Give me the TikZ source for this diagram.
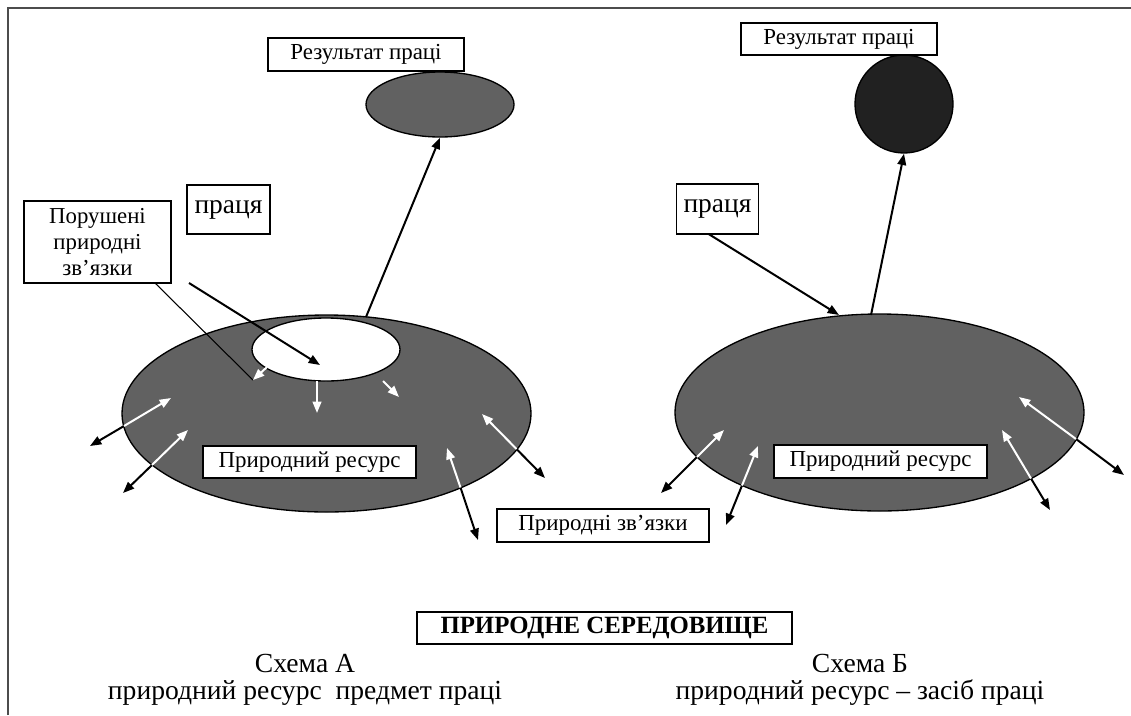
\documentclass[tikz,border=0pt]{standalone}
\usepackage{fontspec}
\setmainfont{Liberation Serif}
\usetikzlibrary{shapes.geometric,arrows.meta}
\begin{document}
\begin{tikzpicture}[x=0.75pt,y=-0.75pt,
  box/.style={draw=black,fill=white,line width=0.8pt,inner sep=0pt,align=center},
  ell/.style={ellipse,draw=black,line width=1pt,inner sep=0pt},
  arr/.style={draw=black,line width=1.5pt,-{Triangle[length=8.5pt,width=6.5pt]}},
  warr/.style={draw=white,line width=1.5pt,-{Triangle[length=8.5pt,width=6.5pt]}},
  thinline/.style={draw=black,line width=0.8pt},
  lbl/.style={font=\fontsize{17.2pt}{20pt}\selectfont},
  worklbl/.style={font=\fontsize{20.6pt}{24pt}\selectfont},
  captxt/.style={font=\fontsize{20.7pt}{20.25pt}\selectfont,inner sep=0pt,align=center}
]
\useasboundingbox (0,0) rectangle (1131,715);
% frame
\draw[black!70,line width=1.5pt] (7.5,715) -- (7.5,7.5) -- (1131,7.5);

% ---------- Scheme A ----------
\node[ell,fill=black!62,minimum width=306.75pt,minimum height=147.75pt] (bigA) at (326.5,413.5) {};
\node[ell,fill=white,minimum width=111pt,minimum height=47.25pt] (whiteA) at (326,349.5) {};
\node[ell,fill=black!62,minimum width=111pt,minimum height=48.75pt] (resellA) at (440,104.5) {};
\node[box,lbl,minimum width=147pt,minimum height=24.75pt] (resA) at (366,54.5) {Результат праці};
\node[box,worklbl,minimum width=62.25pt,minimum height=36.75pt] (workA) at (228.5,209.5) {праця};
\node[box,font=\fontsize{17.1pt}{19.5pt}\selectfont,minimum width=110.25pt,minimum height=61.5pt] (broken) at (97.5,242) {Порушені\\природні\\зв’язки};
\node[box,lbl,minimum width=159.75pt,minimum height=24pt] (natA) at (309.5,462) {Природний ресурс};

\coordinate (laborA) at (189,283);
\coordinate (laborAend) at (320,365);
\coordinate (brokenfoot) at (155,283);
\coordinate (brokentip) at (253,380);
\coordinate (resAstart) at (366,317);

\draw[thinline] (brokenfoot) -- (brokentip);
\draw[arr] (laborA) -- (laborAend);
\draw[arr] (resAstart) -- (resellA.south);

% white arrows from the disturbed zone
\coordinate (wa1s) at (267,367); \coordinate (wa1e) at (253,380);
\coordinate (wa2s) at (317,381); \coordinate (wa2e) at (317,413);
\coordinate (wa3s) at (383,381); \coordinate (wa3e) at (399,397);
\draw[warr] (wa1s) -- (wa1e);
\draw[warr] (wa2s) -- (wa2e);
\draw[warr] (wa3s) -- (wa3e);

% double arrows A: outer / split / inner
\coordinate (a1o) at (90,446);   \coordinate (a1s) at (124,426);   \coordinate (a1i) at (171,398);
\coordinate (a2o) at (123,493);  \coordinate (a2s) at (152,465);   \coordinate (a2i) at (188,430);
\coordinate (a3o) at (545,478);  \coordinate (a3s) at (516.5,449); \coordinate (a3i) at (482,414);
\coordinate (a4o) at (478,540);  \coordinate (a4s) at (460.5,487.5); \coordinate (a4i) at (447,448);
\foreach \n in {1,2,3,4}{
  \draw[arr] (a\n s) -- (a\n o);
  \draw[warr] (a\n s) -- (a\n i);
}

% ---------- Scheme B ----------
\node[ell,fill=black!62,minimum width=306.75pt,minimum height=147.75pt] (bigB) at (879.5,412.5) {};
\node[circle,draw=black,line width=1pt,fill=black!87,inner sep=0pt,minimum size=73.5pt] (circB) at (904,104) {};
\node[box,lbl,minimum width=147pt,minimum height=24pt] (resB) at (839,39) {Результат праці};
\node[box,worklbl,minimum width=61.5pt,minimum height=37.5pt] (workB) at (717.5,209) {праця};
\node[box,lbl,minimum width=159.75pt,minimum height=24.75pt] (natB) at (880.5,461.5) {Природний ресурс};

\coordinate (laborBs) at (708.6,234);
\coordinate (laborBe) at (839,315);
\coordinate (resBstart) at (871,315);
\draw[arr] (laborBs) -- (laborBe);
\draw[arr] (resBstart) -- (circB.south);

\coordinate (b1o) at (661,493);   \coordinate (b1s) at (697,457);     \coordinate (b1i) at (724,430);
\coordinate (b2o) at (726,525);   \coordinate (b2s) at (742,485.5);   \coordinate (b2i) at (758,446);
\coordinate (b3o) at (1124,475);  \coordinate (b3s) at (1076,439);    \coordinate (b3i) at (1019,397);
\coordinate (b4o) at (1050,510);  \coordinate (b4s) at (1031,478.5);  \coordinate (b4i) at (1002,430);
\foreach \n in {1,2,3,4}{
  \draw[arr] (b\n s) -- (b\n o);
  \draw[warr] (b\n s) -- (b\n i);
}

% ---------- shared labels ----------
\node[box,lbl,minimum width=159pt,minimum height=24.75pt] (links) at (603,525.5) {Природні зв’язки};
\node[box,font=\fontsize{18.6pt}{21pt}\selectfont\bfseries,minimum width=281.25pt,minimum height=24pt,line width=1pt] (env) at (604.5,628) {ПРИРОДНЕ СЕРЕДОВИЩЕ};

\node[captxt] (capA) at (305,680) {Схема А\\природний ресурс\ \ предмет праці};
\node[captxt] (capB) at (860,680) {Схема Б\\природний ресурс – засіб праці};
\end{tikzpicture}
\end{document}
